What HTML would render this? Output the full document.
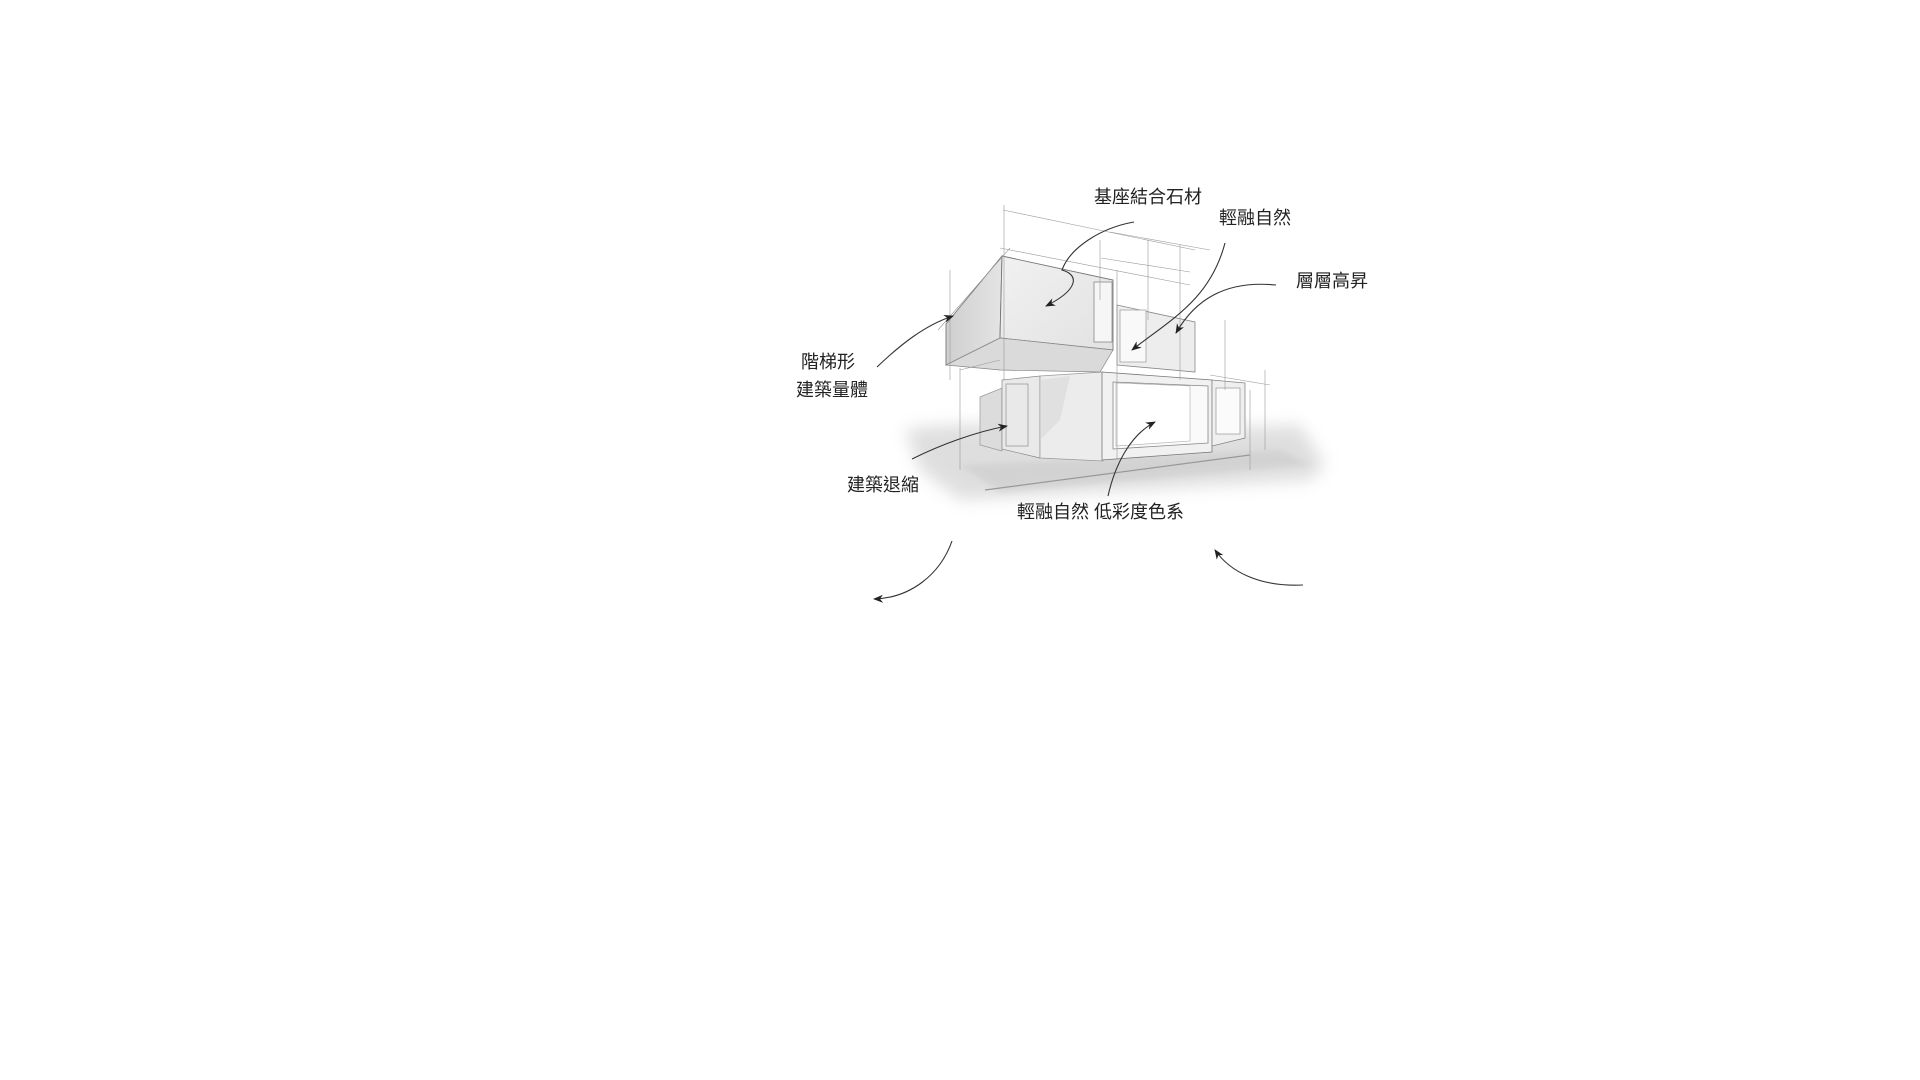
<!DOCTYPE html>
<html><head><meta charset="utf-8"><style>
html,body{margin:0;padding:0;background:#fff;width:1920px;height:1080px;overflow:hidden}
svg{position:absolute;left:0;top:0}
text{font-family:"Liberation Sans","Noto Sans CJK TC",sans-serif;font-size:18px;fill:#222}
</style></head><body>
<svg width="1920" height="1080" viewBox="0 0 1920 1080">
<defs>
<filter id="b" x="-20%" y="-50%" width="140%" height="200%"><feGaussianBlur stdDeviation="8"/></filter>
<filter id="b2"><feGaussianBlur stdDeviation="3"/></filter>
<marker id="ah" markerWidth="10" markerHeight="8" refX="9" refY="4" orient="auto" markerUnits="userSpaceOnUse"><path d="M0,0 L10,4 L0,8 L3,4z" fill="#222"/></marker>
<linearGradient id="lf" x1="0" y1="0" x2="1" y2="0"><stop offset="0" stop-color="#cfcfcf"/><stop offset="1" stop-color="#e4e4e4"/></linearGradient>
<linearGradient id="ff" x1="0" y1="0" x2="1" y2="1"><stop offset="0" stop-color="#f1f1f1"/><stop offset="1" stop-color="#e2e2e2"/></linearGradient>
</defs>
<!-- ground shadow -->
<g filter="url(#b)" opacity=".55">
<path d="M905,430 C960,420 1020,425 1060,435 L1300,425 L1325,465 L1310,480 L1100,492 L960,500 L920,470z" fill="#c4c4c4"/>
</g>
<path d="M960,465 L1280,450 L1310,465 L1000,492z" fill="#c8c8c8" filter="url(#b2)" opacity=".5"/>
<path d="M985,490 L1250,455" stroke="#999" stroke-width="1.2"/>
<!-- lower left small block -->
<polygon points="980,397 1002,388 1002,451 980,445" fill="#dcdcdc" stroke="#999" stroke-width=".7"/>
<polygon points="1002,380 1040,376 1040,458 1002,449" fill="#e9e9e9" stroke="#888" stroke-width=".7"/>
<rect x="1006" y="384" width="22" height="62" fill="none" stroke="#999" stroke-width=".8"/>
<polygon points="1040,376 1103,372 1103,461 1040,458" fill="#ececec" stroke="#999" stroke-width=".7"/>
<polygon points="1040,380 1070,376 1060,420 1040,440" fill="#d4d4d4" opacity=".5"/>
<!-- lower main box -->
<polygon points="1102,372 1212,380 1212,452 1102,460" fill="#f1f1f1" stroke="#777" stroke-width=".8"/>
<polygon points="1113,382 1208,386 1208,443 1113,449" fill="#fafafa" stroke="#888" stroke-width=".8"/>
<polygon points="1116,383 1190,386 1190,441 1116,446" fill="#fff" stroke="#aaa" stroke-width=".6"/>
<!-- right annex -->
<polygon points="1212,380 1245,383 1245,438 1212,446" fill="#efefef" stroke="#888" stroke-width=".8"/>
<rect x="1216" y="388" width="24" height="46" fill="#fbfbfb" stroke="#999" stroke-width=".7"/>
<!-- upper rear part -->
<polygon points="1117,305 1195,322 1195,372 1117,365" fill="#ededed" stroke="#888" stroke-width=".8"/>
<rect x="1120" y="310" width="26" height="52" fill="#f9f9f9" stroke="#999" stroke-width=".7"/>
<!-- upper front box -->
<polygon points="946,324 1002,256 1000,338 946,365" fill="url(#lf)" stroke="#777" stroke-width=".9"/>
<polygon points="1002,256 1113,280 1113,350 1000,338" fill="url(#ff)" stroke="#777" stroke-width=".9"/>
<polygon points="946,365 1000,338 1113,350 1100,372 1000,370" fill="#dadada" stroke="#888" stroke-width=".7"/>
<rect x="1094" y="282" width="18" height="60" fill="#f6f6f6" stroke="#888" stroke-width=".8"/>
<!-- construction lines -->
<g stroke="#999" stroke-width=".6" fill="none">
<path d="M1004,205 L1004,380"/><path d="M950,270 L950,380"/><path d="M938,330 L1010,248"/>
<path d="M1000,248 L1190,285"/><path d="M1101,258 L1190,272"/><path d="M1100,240 L1100,300"/>
<path d="M1148,240 L1148,320"/><path d="M1180,245 L1180,380"/><path d="M1117,270 L1117,460"/>
<path d="M960,370 L1000,360"/><path d="M1210,375 L1270,385"/><path d="M1265,370 L1265,450"/>
<path d="M1250,390 L1250,470"/><path d="M960,368 L960,470"/><path d="M1225,320 L1225,390"/>
<path d="M1003,210 L1195,250"/><path d="M1110,232 L1210,250"/>
</g>
<!-- leaders -->
<g stroke="#333" stroke-width="1.1" fill="none" marker-end="url(#ah)">
<path d="M1134,222 C1100,228 1070,248 1062,270 C1080,275 1078,290 1046,306"/>
<path d="M1225,243 C1210,300 1170,320 1132,350"/>
<path d="M1276,285 C1225,280 1195,300 1176,333"/>
<path d="M877,367 C900,345 925,325 953,316"/>
<path d="M912,459 C940,445 975,432 1007,426"/>
<path d="M1108,496 C1115,465 1130,435 1155,422"/>
<path d="M952,541 C940,575 910,598 874,599"/>
<path d="M1303,585 C1260,587 1230,572 1215,550"/>
</g>
<text x="1094" y="203">基座結合石材</text>
<text x="1219" y="224">輕融自然</text>
<text x="1296" y="287">層層高昇</text>
<text x="801" y="368">階梯形</text>
<text x="796" y="396">建築量體</text>
<text x="847" y="491">建築退縮</text>
<text x="1017" y="518">輕融自然 低彩度色系</text>
</svg>
</body></html>
